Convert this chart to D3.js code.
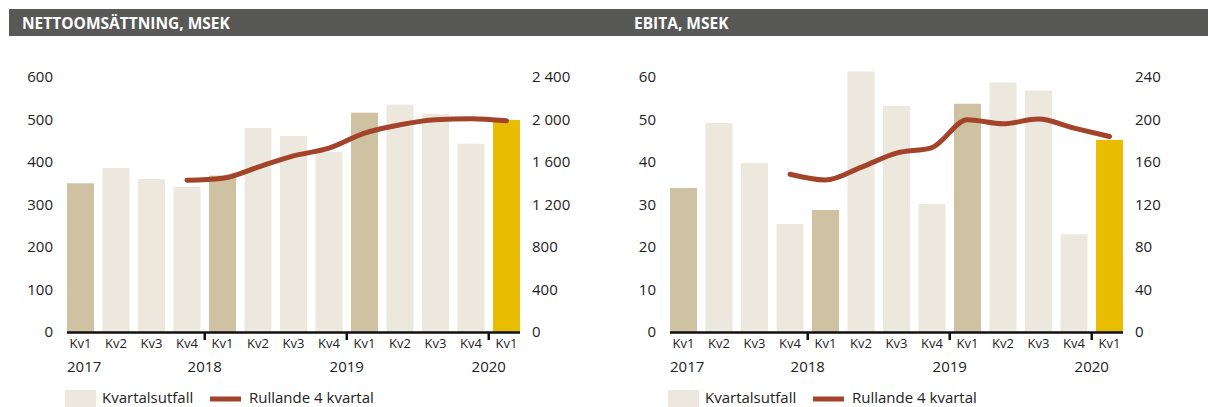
<!DOCTYPE html>
<html>
<head>
<meta charset="utf-8">
<script src="https://cdn.jsdelivr.net/npm/d3@7"></script>
<style>
  body { margin: 0; background: #fff; }
  svg { display: block; font-family: "Open Sans", sans-serif; }
</style>
</head>
<body>
<div id="chart"></div>
<script>
// quarters 2017 Kv1 .. 2020 Kv1
const quarters = ["Kv1", "Kv2", "Kv3", "Kv4", "Kv1", "Kv2", "Kv3", "Kv4", "Kv1", "Kv2", "Kv3", "Kv4", "Kv1"]
const years = ["2017", "2018", "2019", "2020"]

const salesQuarter = [350, 386, 360, 341, 368, 480, 461, 424, 516, 535, 513, 443, 499]
const salesRolling = [null, null, null, 1428, 1447, 1551, 1658, 1730, 1872, 1950, 1997, 2007, 1988]
const salesLeftTicks = [0, 100, 200, 300, 400, 500, 600]
const salesRightTicks = [0, 400, 800, 1200, 1600, 2000, 2400]

const ebitaQuarter = [33.9, 49.2, 39.8, 25.4, 28.7, 61.3, 53.2, 30.1, 53.7, 58.7, 56.8, 23.0, 45.2]
const ebitaRolling = [null, null, null, 148.5, 143.1, 155, 168.3, 173.6, 199.7, 196, 200.4, 191.9, 184]
const ebitaLeftTicks = [0, 10, 20, 30, 40, 50, 60]
const ebitaRightTicks = [0, 40, 80, 120, 160, 200, 240]

const titles = ["NETTOOMSÄTTNING, MSEK", "EBITA, MSEK"]
const legendLabels = ["Kvartalsutfall", "Rullande 4 kvartal"]

const colors = {
  header: "#585856",
  light: "#ECE8DE",
  dark: "#CFC2A2",
  current: "#E8BC00",
  line: "#A2432A",
  text: "#222",
}

const sv = d3.formatLocale({ decimal: ",", thousands: " ", grouping: [3], currency: ["", " kr"] })
const fmt = sv.format(",d")

const width = 1209
const height = 407

const svg = d3.select("#chart")
  .append("svg")
    .attr("width", width)
    .attr("height", height)

// header bar
svg.append("rect")
  .attr("x", 9)
  .attr("y", 9)
  .attr("width", 1199)
  .attr("height", 27)
  .attr("fill", colors.header)

const drawPanel = (opts) => {
  const { offset, titleX, title, barValues, lineValues, leftTicks, rightTicks } = opts
  const keys = quarters.map((q, i) => i)
  const y0 = 332
  const y1 = 77

  svg.append("text")
    .attr("x", titleX)
    .attr("y", 29)
    .attr("fill", "#fff")
    .attr("font-weight", 700)
    .attr("font-size", 15.5)
    .text(title)

  const xScale = d3.scaleBand()
    .domain(keys)
    .range([offset + 67, offset + 520])
    .paddingInner(0.24)
    .paddingOuter(0)

  const yLeft = d3.scaleLinear()
    .domain([0, d3.max(leftTicks)])
    .range([y0, y1])
  const yRight = d3.scaleLinear()
    .domain([0, d3.max(rightTicks)])
    .range([y0, y1])

  // bars
  svg.append("g")
    .selectAll("rect")
    .data(barValues)
    .join("rect")
      .attr("x", (d, i) => xScale(i))
      .attr("y", d => yLeft(d))
      .attr("width", xScale.bandwidth())
      .attr("height", d => y0 - yLeft(d))
      .attr("fill", (d, i) => i === barValues.length - 1
        ? colors.current
        : (quarters[i] === "Kv1" ? colors.dark : colors.light))

  // rolling line
  svg.append("path")
    .datum(lineValues.map((v, i) => ({ i, v })).filter(d => d.v != null))
      .attr("fill", "none")
      .attr("stroke", colors.line)
      .attr("stroke-width", 5)
      .attr("stroke-linejoin", "round")
      .attr("stroke-linecap", "round")
      .attr("d", d3.line()
        .x(d => xScale(d.i) + xScale.bandwidth() / 2)
        .y(d => yRight(d.v))
        .curve(d3.curveMonotoneX)
      )

  // y axes
  const leftAxis = svg.append("g")
    .attr("transform", `translate(${offset + 67},0)`)
    .call(d3.axisLeft(yLeft).tickValues(leftTicks).tickSize(0).tickPadding(14).tickFormat(fmt))
  const rightAxis = svg.append("g")
    .attr("transform", `translate(${offset + 520},0)`)
    .call(d3.axisRight(yRight).tickValues(rightTicks).tickSize(0).tickPadding(12).tickFormat(fmt))
  ;[leftAxis, rightAxis].forEach(a => {
    a.select(".domain").remove()
    a.selectAll("text")
      .attr("font-size", 15)
      .attr("font-family", "Open Sans, sans-serif")
      .attr("fill", colors.text)
  })

  // x axis with quarter labels
  const xAxis = svg.append("g")
    .attr("transform", `translate(0,${y0})`)
    .call(d3.axisBottom(xScale).tickSize(0).tickPadding(7).tickFormat(i => quarters[i]))
  xAxis.select(".domain").remove()
  xAxis.selectAll("text")
    .attr("font-size", 13)
    .attr("font-family", "Open Sans, sans-serif")
    .attr("fill", colors.text)

  svg.append("line")
    .attr("x1", offset + 67)
    .attr("x2", offset + 520)
    .attr("y1", y0 + 0.5)
    .attr("y2", y0 + 0.5)
    .attr("stroke", "#111")
    .attr("stroke-width", 2.5)

  // year separators + year labels
  const gap = xScale.step() - xScale.bandwidth()
  const separators = keys.filter(i => i > 0 && quarters[i] === "Kv1")
    .map(i => xScale(i) - gap / 2)

  svg.append("g")
    .selectAll("line")
    .data(separators)
    .join("line")
      .attr("x1", d => d)
      .attr("x2", d => d)
      .attr("y1", y0)
      .attr("y2", y0 + 8)
      .attr("stroke", "#111")
      .attr("stroke-width", 2.5)

  svg.append("g")
    .selectAll("text")
    .data(years)
    .join("text")
      .attr("x", (d, i) => i === 0 ? offset + 67 : separators[i - 1])
      .attr("y", 372)
      .attr("text-anchor", (d, i) => i === 0 ? "start" : "middle")
      .attr("font-size", 15)
      .attr("fill", colors.text)
      .text(d => d)

  // legend
  const legend = svg.append("g")
    .attr("transform", `translate(${offset},0)`)
  legend.append("rect")
    .attr("x", 65)
    .attr("y", 390)
    .attr("width", 31)
    .attr("height", 17)
    .attr("fill", colors.light)
  legend.append("text")
    .attr("x", 102)
    .attr("y", 403)
    .attr("font-size", 15)
    .attr("fill", colors.text)
    .text(legendLabels[0])
  legend.append("line")
    .attr("x1", 210)
    .attr("x2", 241)
    .attr("y1", 399)
    .attr("y2", 399)
    .attr("stroke", colors.line)
    .attr("stroke-width", 5)
  legend.append("text")
    .attr("x", 249)
    .attr("y", 403)
    .attr("font-size", 15)
    .attr("fill", colors.text)
    .text(legendLabels[1])
}

drawPanel({
  offset: 0,
  titleX: 22,
  title: titles[0],
  barValues: salesQuarter,
  lineValues: salesRolling,
  leftTicks: salesLeftTicks,
  rightTicks: salesRightTicks,
})

drawPanel({
  offset: 603,
  titleX: 634,
  title: titles[1],
  barValues: ebitaQuarter,
  lineValues: ebitaRolling,
  leftTicks: ebitaLeftTicks,
  rightTicks: ebitaRightTicks,
})
</script>
</body>
</html>
